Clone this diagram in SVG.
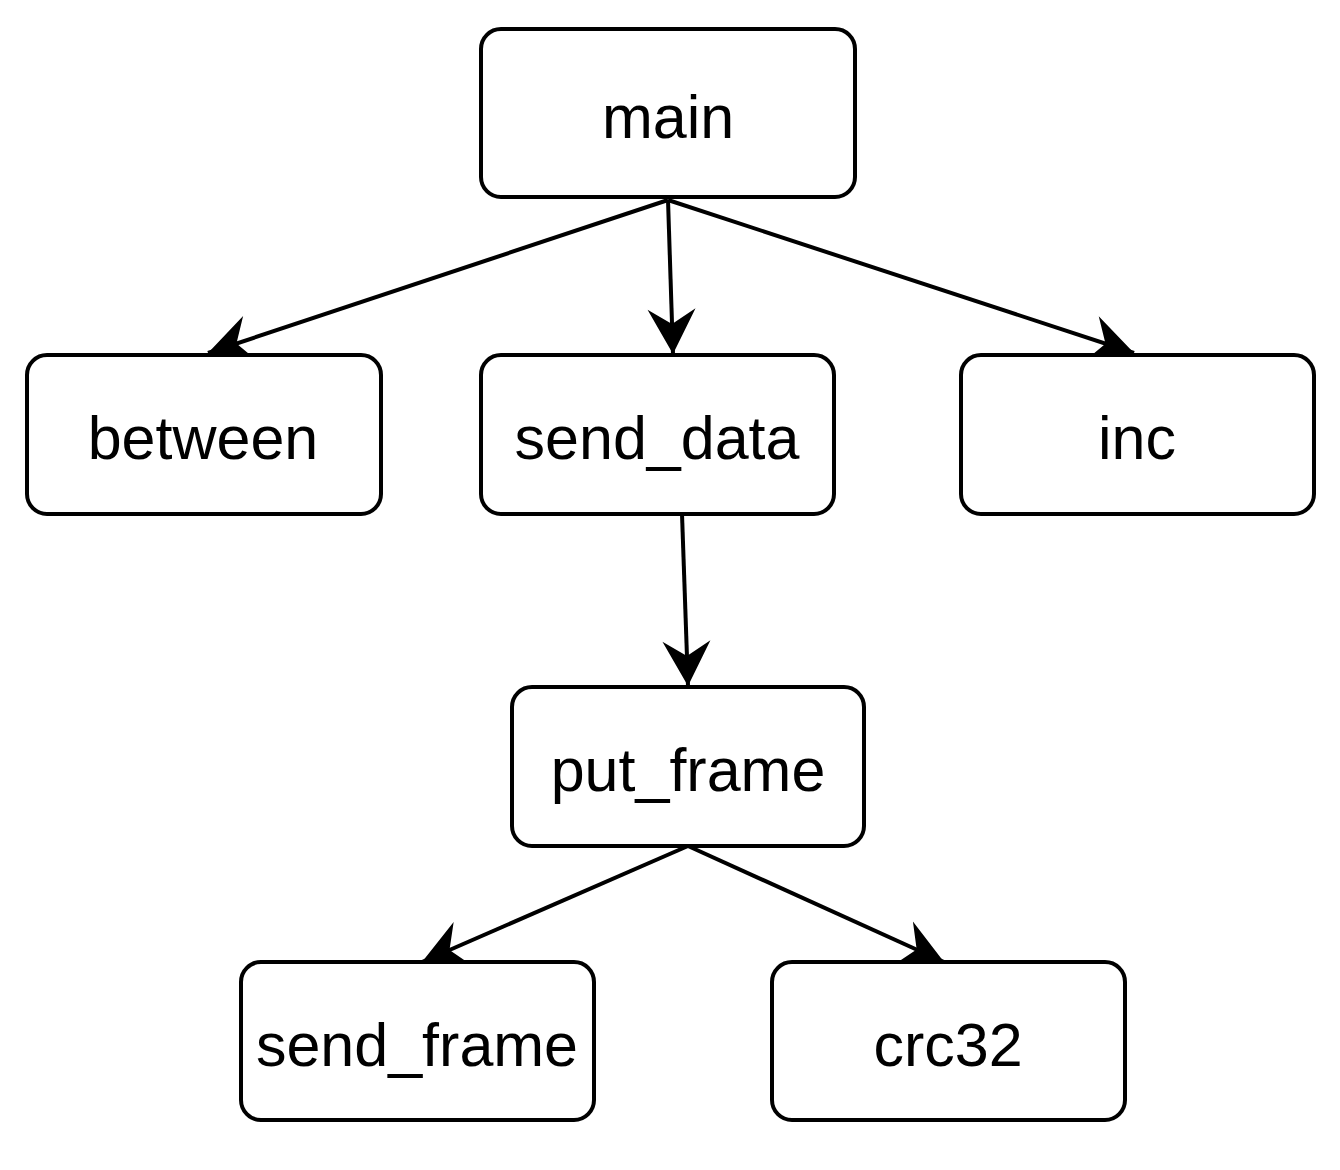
<svg xmlns="http://www.w3.org/2000/svg" width="1340" height="1170" viewBox="0 0 1340 1170">
<style>
.box{fill:#fff;stroke:#000;stroke-width:4}
.lbl{font-family:"Liberation Sans",Arial,sans-serif;font-size:61px;fill:#000;text-anchor:middle}
.edge{stroke:#000;stroke-width:4;fill:none}
</style>
<defs>
<marker id="arr" markerUnits="userSpaceOnUse" markerWidth="56" markerHeight="56" viewBox="-50 -28 56 56" refX="0" refY="0" orient="auto">
<path d="M0,0 L-45,-24 L-30,0 L-45,24 Z" fill="#000"/>
</marker>
</defs>
<rect width="1340" height="1170" fill="#fff"/>
<g id="connectors">
<line class="edge" x1="668" y1="200" x2="208" y2="353" marker-end="url(#arr)"/>
<line class="edge" x1="668" y1="200" x2="673" y2="354" marker-end="url(#arr)"/>
<line class="edge" x1="668" y1="200" x2="1134" y2="353" marker-end="url(#arr)"/>
<line class="edge" x1="682" y1="514" x2="688" y2="686" marker-end="url(#arr)"/>
<line class="edge" x1="688" y1="846" x2="422" y2="962" marker-end="url(#arr)"/>
<line class="edge" x1="688" y1="846" x2="944" y2="962" marker-end="url(#arr)"/>
</g>
<g id="main"><rect class="box" x="481" y="29" width="374" height="168" rx="20"/><text class="lbl" x="668" y="138">main</text></g>
<g id="between"><rect class="box" x="27" y="355" width="354" height="159" rx="20"/><text class="lbl" x="203" y="459">between</text></g>
<g id="send_data"><rect class="box" x="481" y="355" width="353" height="159" rx="20"/><text class="lbl" x="657" y="459">send_data</text></g>
<g id="inc"><rect class="box" x="961" y="355" width="353" height="159" rx="20"/><text class="lbl" x="1137" y="459">inc</text></g>
<g id="put_frame"><rect class="box" x="512" y="687" width="352" height="159" rx="20"/><text class="lbl" x="688" y="791">put_frame</text></g>
<g id="send_frame"><rect class="box" x="241" y="962" width="353" height="158" rx="20"/><text class="lbl" x="417" y="1066">send_frame</text></g>
<g id="crc32"><rect class="box" x="772" y="962" width="353" height="158" rx="20"/><text class="lbl" x="948" y="1066">crc32</text></g>
</svg>
